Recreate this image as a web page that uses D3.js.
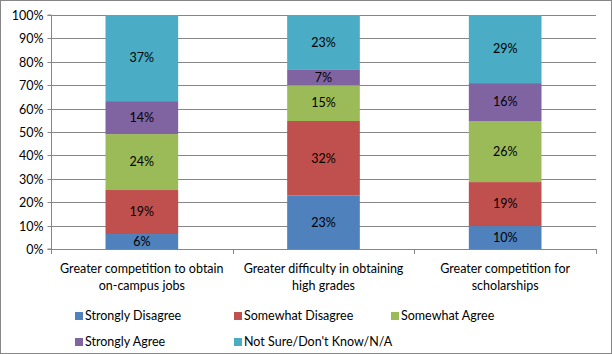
<!DOCTYPE html>
<html><head><meta charset="utf-8">
<script src="https://cdn.jsdelivr.net/npm/d3@7"></script>
<style>body{margin:0;background:#fff}svg{display:block}text{font-family:Lato,"Open Sans",sans-serif;fill:#000}</style>
</head><body><svg id="c" width="612" height="354"></svg>
<script>
const categories = [["Greater competition to obtain","on-campus jobs"],["Greater difficulty in obtaining","high grades"],["Greater competition for","scholarships"]];
const seriesNames = ["Strongly Disagree","Somewhat Disagree","Somewhat Agree","Strongly Agree","Not Sure/Don't Know/N/A"];
const stronglyDisagree = [6.4, 22.8, 9.8];
const somewhatDisagree = [18.8, 31.9, 18.8];
const somewhatAgree = [23.9, 15.3, 26.1];
const stronglyAgree = [14.1, 6.8, 16.2];
const notSure = [36.8, 23.2, 29.1];
const yTicks = [0,10,20,30,40,50,60,70,80,90,100];
const colors = ["#4F81BD","#C0504D","#9BBB59","#8064A2","#4BACC6"];
const FS = 12.5;

const svg = d3.select("#c");
svg.append("rect").attr("x",0.5).attr("y",0.5).attr("width",611).attr("height",353).attr("fill","#fff").attr("stroke","#868686");
const L=51,R=596,T=15,B=249;
const x = d3.scaleBand().domain(d3.range(categories.length)).range([L,R]).paddingInner(0.6).paddingOuter(0.3);
const xb = d3.scaleBand().domain(d3.range(categories.length)).range([L,R]);
const y = d3.scaleLinear().domain([0,100]).range([B,T]);

svg.append("g").selectAll("line").data(yTicks.slice(1)).join("line")
 .attr("x1",L).attr("x2",R).attr("y1",d=>Math.round(y(d))+0.5).attr("y2",d=>Math.round(y(d))+0.5).attr("stroke","#868686");

const seriesData = [stronglyDisagree,somewhatDisagree,somewhatAgree,stronglyAgree,notSure];
const rows = categories.map((c,i)=>{const o={i}; seriesNames.forEach((s,j)=>o[s]=seriesData[j][i]); return o;});
const stack = d3.stack().keys(seriesNames)(rows);
const g = svg.append("g");
stack.forEach((layer,j)=>{
  layer.forEach((d,i)=>{
    g.append("rect").attr("x",x(i)).attr("width",x.bandwidth()).attr("y",y(d[1])).attr("height",y(d[0])-y(d[1])).attr("fill",colors[j]);
    g.append("text").attr("x",x(i)+x.bandwidth()/2).attr("y",(y(d[0])+y(d[1]))/2).attr("dy","0.35em").attr("text-anchor","middle").attr("font-size",FS)
      .text(Math.round(d[1]-d[0])+"%");
  });
});

const ya = svg.append("g").attr("transform",`translate(${L+0.5},0)`).call(d3.axisLeft(y).tickValues(yTicks).tickSize(4).tickPadding(4).tickFormat(d=>d+"%"));
ya.select(".domain").attr("stroke","#868686").attr("d",`M-4,${T}H0V${B}H-4`);
ya.selectAll(".tick line").attr("stroke","#868686");
ya.selectAll(".tick text").attr("font-size",FS).attr("font-family","Lato, sans-serif");
ya.selectAll(".tick").attr("transform",d=>`translate(0,${Math.round(y(d))+0.5})`);

const xa = svg.append("g");
xa.append("line").attr("x1",L).attr("x2",R).attr("y1",B+0.5).attr("y2",B+0.5).attr("stroke","#868686");
const bounds = [L, ...d3.range(1,categories.length).map(i=>xb(i)), R];
xa.selectAll(".t").data(bounds).join("line").attr("x1",d=>Math.round(d)+0.5).attr("x2",d=>Math.round(d)+0.5).attr("y1",B).attr("y2",B+5).attr("stroke","#868686");
categories.forEach((c,i)=>{
  const t = xa.append("text").attr("text-anchor","middle").attr("font-size",FS);
  c.forEach((line,k)=>t.append("tspan").attr("x",xb(i)+xb.bandwidth()/2).attr("y",273+k*17).text(line));
});

const legPos = [[75,316],[234,316],[391,316],[75,342],[234,342]];
seriesNames.forEach((s,j)=>{
  const [lx,ly]=legPos[j];
  svg.append("rect").attr("x",lx).attr("y",ly-4).attr("width",8).attr("height",8).attr("fill",colors[j]);
  svg.append("text").attr("x",lx+10).attr("y",ly).attr("dy","0.35em").attr("font-size",FS).text(s);
});
</script></body></html>
